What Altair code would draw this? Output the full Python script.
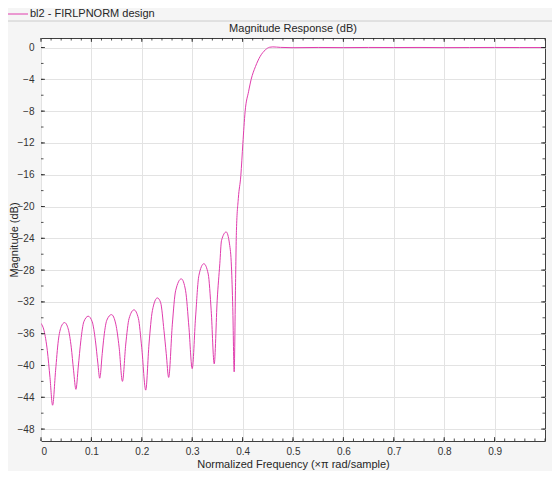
import altair as alt
import pandas as pd

# ---- data ----
freq = [0.000, 0.006, 0.0125, 0.0178, 0.023, 0.029, 0.0343, 0.0402, 0.0468, 0.054,
        0.060, 0.0646, 0.0693, 0.0739, 0.079, 0.085, 0.0937, 0.1016, 0.108, 0.1128,
        0.1165, 0.1215, 0.124, 0.1306, 0.1399, 0.1484, 0.155, 0.1616, 0.1682, 0.1747,
        0.1846, 0.1933, 0.1998, 0.2078, 0.2143, 0.221, 0.2309, 0.2374, 0.244, 0.2485,
        0.2533, 0.2606, 0.2671, 0.2784, 0.2869, 0.2935, 0.300, 0.3067, 0.3132, 0.3231,
        0.3318, 0.3377, 0.3437, 0.3496, 0.3548, 0.3581, 0.3674, 0.374, 0.3779, 0.3805,
        0.3833, 0.3858, 0.3878, 0.3915, 0.3965, 0.4005, 0.405, 0.412, 0.417, 0.4255,
        0.435, 0.445, 0.4537, 0.46, 0.475, 0.5, 0.55, 0.6, 0.65, 0.7,
        0.75, 0.8, 0.85, 0.9, 0.95, 1.0]
mag_db = [-34.7, -35.6, -38.1, -41.5, -45.0, -40.6, -36.9, -35.1, -34.6, -35.4,
          -37.7, -40.6, -43.0, -40.2, -36.9, -34.5, -33.8, -34.5, -36.9, -39.7,
          -41.6, -38.5, -36.9, -34.3, -33.6, -34.8, -37.7, -42.0, -37.3, -34.1,
          -33.0, -34.1, -37.7, -43.1, -37.3, -33.1, -31.5, -32.1, -35.6, -38.5,
          -41.5, -34.8, -30.6, -29.1, -30.6, -35.2, -40.4, -33.9, -28.7, -27.2,
          -28.5, -33.1, -39.8, -31.8, -27.2, -24.3, -23.2, -24.7, -27.6, -32.7,
          -40.8, -30.6, -23.0, -19.0, -16.1, -12.1, -8.05, -5.5, -4.0, -2.4,
          -1.1, -0.3, 0.04, 0.08, 0.02, -0.02, 0.01, -0.01, 0.01, 0.0,
          0.01, -0.01, 0.0, 0.01, 0.0, 0.0]
x_tick_values = [0, 0.1, 0.2, 0.3, 0.4, 0.5, 0.6, 0.7, 0.8, 0.9]
y_tick_values = [0, -4, -8, -12, -16, -20, -24, -28, -32, -36, -40, -44, -48]
x_minor = [i / 50 for i in range(51)]
y_minor = [-2 * i for i in range(25)]
legend_label = "bl2 - FIRLPNORM design"
chart_title = "Magnitude Response (dB)"
x_title = "Normalized Frequency (×π rad/sample)"
y_title = "Magnitude (dB)"

W, H = 504, 403
FONT = "Liberation Sans"
LINE = "#e03cad"
AX = "#262626"
PAD_L, PAD_T, PAD_B = 33, 30, 30

df = pd.DataFrame({"f": freq, "m": mag_db})
xs = alt.Scale(domain=[0, 1], nice=False, zero=False)
ys = alt.Scale(domain=[-49.5, 1.2], nice=False, zero=False)

xaxis = alt.Axis(values=x_tick_values, format="~g", title=x_title, grid=True,
                 gridColor="#e3e3e3", ticks=False, domain=False, labelFont=FONT,
                 labelFontSize=10, labelColor="#333333", labelPadding=5,
                 titleFont=FONT, titleFontSize=11, titleFontWeight="normal",
                 titleColor=AX, titlePadding=2)
yaxis = alt.Axis(values=y_tick_values, title=y_title, grid=True,
                 gridColor="#e3e3e3", ticks=False, domain=False, labelFont=FONT,
                 labelFontSize=10, labelColor="#333333", labelPadding=7,
                 titleFont=FONT, titleFontSize=11, titleFontWeight="normal",
                 titleColor=AX, titleX=-PAD_L + 6, titleY=H / 2,
                 titleBaseline="middle", titleAngle=270, titleAlign="center")

X = lambda fld: alt.X(fld, scale=xs, axis=xaxis)
Y = lambda fld: alt.Y(fld, scale=ys, axis=yaxis)

line = alt.Chart(df).mark_line(color=LINE, strokeWidth=1, clip=True,
                               interpolate="monotone").encode(
    x=X("f:Q"), y=Y("m:Q"))

xmaj = pd.DataFrame({"f": x_tick_values})
xmin = pd.DataFrame({"f": x_minor})
ymaj = pd.DataFrame({"m": y_tick_values})
ymin = pd.DataFrame({"m": y_minor})

def xticks(d, ln):
    b = alt.Chart(d).mark_rule(color=AX, strokeWidth=0.8).encode(
        x=X("f:Q"), y=alt.value(H), y2=alt.value(H - ln))
    t = alt.Chart(d).mark_rule(color=AX, strokeWidth=0.8).encode(
        x=X("f:Q"), y=alt.value(0), y2=alt.value(ln))
    return b + t

def yticks(d, ln):
    l = alt.Chart(d).mark_rule(color=AX, strokeWidth=0.8).encode(
        y=Y("m:Q"), x=alt.value(0), x2=alt.value(ln))
    r = alt.Chart(d).mark_rule(color=AX, strokeWidth=0.8).encode(
        y=Y("m:Q"), x=alt.value(W), x2=alt.value(W - ln))
    return l + r

one = pd.DataFrame({"t": [legend_label], "h": [chart_title]})
LEG_Y = 6 - PAD_T  # legend row centre, relative to plot top
sep = alt.Chart(one).mark_rule(color="#cccccc", strokeWidth=1).encode(
    x=alt.value(-PAD_L), x2=alt.value(W + 7), y=alt.value(13 - PAD_T))
leg_line = alt.Chart(one).mark_rule(color=LINE, strokeWidth=1).encode(
    x=alt.value(-PAD_L), x2=alt.value(-13), y=alt.value(LEG_Y))
leg_text = alt.Chart(one).mark_text(align="left", baseline="middle", font=FONT,
                                    fontSize=11, color=AX).encode(
    x=alt.value(-11), y=alt.value(LEG_Y), text="t:N")
title_text = alt.Chart(one).mark_text(align="center", baseline="middle", font=FONT,
                                      fontSize=11, color=AX).encode(
    x=alt.value(W / 2), y=alt.value(-9), text="h:N")

chart = alt.layer(
    line,
    xticks(xmin, 2.5), xticks(xmaj, 4),
    yticks(ymin, 2.5), yticks(ymaj, 4),
    sep, leg_line, leg_text, title_text,
).properties(
    width=W, height=H,
    padding={"left": PAD_L, "top": PAD_T, "right": 7, "bottom": PAD_B},
    autosize=alt.AutoSizeParams(type="none"),
    background="#f5f5f5",
).configure_view(fill="white", stroke="#404040", strokeWidth=1)

chart.save("out.html", embed_options={"renderer": "svg", "actions": False})
